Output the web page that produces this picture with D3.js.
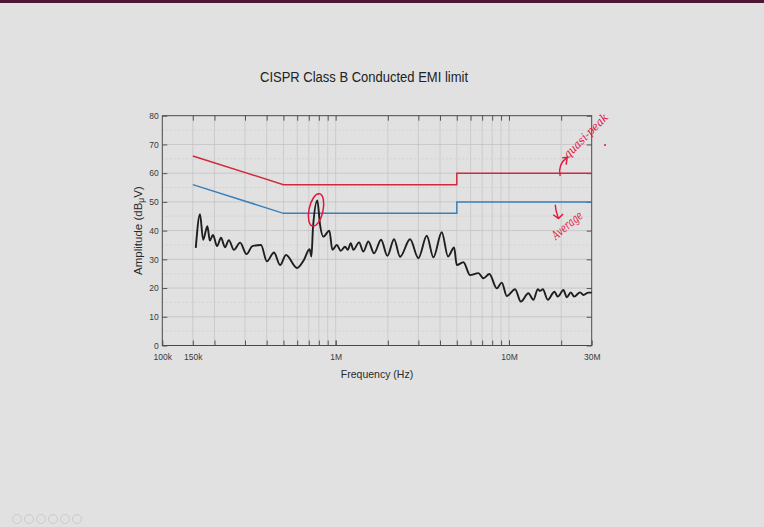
<html>
<head>
<meta charset="utf-8">
<script src="https://d3js.org/d3.v7.min.js"></script>
<style>
  body { margin: 0; background: #e1e1e1; }
</style>
</head>
<body>
<script>
// CISPR 22 class B limits (Hz / dBuV)
const limitFreq = [150e3, 500e3, 5e6, 5e6, 30e6];
const quasiPeak = [66, 56, 56, 60, 60];
const average = [56, 46, 46, 50, 50];

const emiFreq = [0.156, 0.165, 0.172, 0.182, 0.188, 0.196, 0.207, 0.218, 0.230, 0.242,
  0.259, 0.281, 0.306, 0.331, 0.371, 0.401, 0.441, 0.478, 0.517, 0.599,
  0.656, 0.707, 0.725, 0.740, 0.784, 0.813, 0.849, 0.920, 0.957, 1.015,
  1.070, 1.133, 1.175, 1.222, 1.265, 1.365, 1.445, 1.544, 1.666, 1.828,
  1.988, 2.173, 2.353, 2.688, 3.001, 3.355, 3.663, 4.095, 4.45, 4.822,
  5.0, 5.46, 5.96, 6.66, 7.12, 7.71, 8.50, 9.09, 9.71, 10.84,
  11.70, 12.94, 13.83, 14.66, 15.12, 15.67, 16.74, 18.28, 19.13, 20.60,
  21.56, 22.74, 23.75, 25.72, 26.87, 28.72, 30.0];
const emiLevel = [34, 45.7, 36.8, 41.5, 36.5, 38.5, 34.6, 37.5, 34.2, 36.7,
  33.3, 35.8, 31.8, 34.6, 35, 29.3, 32.4, 28, 31.5, 27,
  29.8, 33.5, 31, 41, 50.5, 42, 37.9, 40, 33.3, 35,
  33, 34.4, 33.3, 35.6, 33.3, 35.9, 32.7, 36.2, 32.1, 36.8,
  31.2, 37, 30.9, 37, 30.4, 38.2, 30.7, 39.4, 31, 34.1,
  28, 29, 24.5, 25.2, 23.4, 24.9, 19.9, 21.9, 17.2, 19.6,
  15.3, 18.2, 15.9, 19.6, 19, 19.6, 15.9, 18.7, 17, 19.3,
  16.8, 18.5, 17, 18.5, 17.6, 18.4, 18.4];

const xTickVals = [1e5, 1.5e5, 1e6, 1e7, 3e7];
const xTickLabels = ["100k", "150k", "1M", "10M", "30M"];
const yTickVals = [0, 10, 20, 30, 40, 50, 60, 70, 80];

const W = 764, H = 527;
const pLeft = 162.3, pRight = 591.7, pTop = 115.7, pBottom = 345.5;

const svg = d3.select("body").append("svg")
  .attr("width", W)
  .attr("height", H);

svg.append("rect").attr("width", W).attr("height", H).attr("fill", "#e1e1e1");
svg.append("rect").attr("width", W).attr("height", 3).attr("fill", "#4e1834");

let x = d3.scaleLog().domain([1e5, 3e7]).range([pLeft, pRight]);
let y = d3.scaleLinear().domain([0, 80]).range([pBottom, pTop]);

let minorX = x.ticks().filter(d => d > 1e5 && d < 3e7);

// grid
let grid = svg.append("g");
grid.selectAll(".gx")
  .data(minorX.concat([1.5e5]))
  .enter().append("line")
  .attr("x1", d => x(d)).attr("x2", d => x(d))
  .attr("y1", pTop).attr("y2", pBottom)
  .attr("stroke", "#c6c6c6")
  .attr("stroke-width", 0.8);
grid.selectAll(".gy")
  .data(d3.range(5, 80, 5))
  .enter().append("line")
  .attr("x1", pLeft).attr("x2", pRight)
  .attr("y1", d => y(d)).attr("y2", d => y(d))
  .attr("stroke", d => d % 10 == 0 ? "#c2c2c2" : "#cecece")
  .attr("stroke-width", 0.8)
  .attr("stroke-dasharray", d => d % 10 == 0 ? null : "2,2");

// axes
const tickStyle = g => {
  g.select(".domain").remove();
  g.selectAll("line").attr("stroke", "#555");
  g.selectAll("text")
    .attr("font-family", "Liberation Sans, Arial, sans-serif")
    .attr("font-size", "8.5px")
    .attr("fill", "#3a3a3a");
};

svg.append("g")
  .attr("transform", `translate(0,${pBottom})`)
  .call(d3.axisBottom(x).tickValues(xTickVals)
    .tickFormat((d, i) => xTickLabels[i]).tickSizeInner(-5).tickSizeOuter(0).tickPadding(8))
  .call(tickStyle);
svg.append("g")
  .attr("transform", `translate(0,${pBottom})`)
  .call(d3.axisBottom(x).tickValues(minorX).tickFormat("").tickSize(-5))
  .call(tickStyle);
svg.append("g")
  .attr("transform", `translate(0,${pTop})`)
  .call(d3.axisTop(x).tickValues(minorX.concat([1.5e5])).tickFormat("").tickSize(-5))
  .call(tickStyle);
svg.append("g")
  .attr("transform", `translate(${pLeft},0)`)
  .call(d3.axisLeft(y).tickValues(yTickVals).tickSizeInner(-5).tickSizeOuter(0).tickPadding(3.5))
  .call(tickStyle);
svg.append("g")
  .attr("transform", `translate(${pRight},0)`)
  .call(d3.axisRight(y).tickValues(yTickVals).tickFormat("").tickSize(-5))
  .call(tickStyle);

svg.append("rect")
  .attr("x", pLeft).attr("y", pTop)
  .attr("width", pRight - pLeft).attr("height", pBottom - pTop)
  .attr("fill", "none")
  .attr("stroke", "#4a4a4a")
  .attr("stroke-width", 1);

// limit lines
const limLine = vals => d3.line()
  .x((d, i) => x(limitFreq[i]))
  .y((d, i) => y(vals[i]))(vals);

svg.append("path").attr("d", limLine(quasiPeak))
  .attr("fill", "none").attr("stroke", "#d02a3c").attr("stroke-width", 1.5);
svg.append("path").attr("d", limLine(average))
  .attr("fill", "none").attr("stroke", "#3f7fb6").attr("stroke-width", 1.5);

// measured spectrum
let emi = emiFreq.map((f, i) => [f * 1e6, emiLevel[i]]);
svg.append("path")
  .attr("d", d3.line().x(d => x(d[0])).y(d => y(d[1])).curve(d3.curveMonotoneX)(emi))
  .attr("fill", "none")
  .attr("stroke", "#1e1e1e")
  .attr("stroke-width", 1.9)
  .attr("stroke-linejoin", "round");

// labels
svg.append("text")
  .attr("x", 364).attr("y", 82)
  .attr("text-anchor", "middle")
  .attr("font-family", "Liberation Sans, Arial, sans-serif")
  .attr("font-size", "15.5px")
  .attr("fill", "#222")
  .attr("textLength", 208)
  .attr("lengthAdjust", "spacingAndGlyphs")
  .text("CISPR Class B Conducted EMI limit");

svg.append("text")
  .attr("x", 377).attr("y", 378)
  .attr("text-anchor", "middle")
  .attr("font-family", "Liberation Sans, Arial, sans-serif")
  .attr("font-size", "10.5px")
  .attr("fill", "#2a2a2a")
  .text("Frequency (Hz)");

let yl = svg.append("text")
  .attr("transform", `translate(142,${(pTop + pBottom) / 2}) rotate(-90)`)
  .attr("text-anchor", "middle")
  .attr("font-family", "Liberation Sans, Arial, sans-serif")
  .attr("font-size", "11.5px")
  .attr("fill", "#2a2a2a");
yl.append("tspan").text("Amplitude (dB");
yl.append("tspan").attr("font-size", "8.5px").attr("dy", 2).text("\u03bc");
yl.append("tspan").attr("dy", -2).text("V)");

// hand drawn annotations
const pen = "#e0143c";
svg.append("ellipse")
  .attr("cx", x(0.771e6)).attr("cy", y(47.2))
  .attr("rx", 7).attr("ry", 16.5)
  .attr("transform", `rotate(12,${x(0.771e6)},${y(47.2)})`)
  .attr("fill", "none").attr("stroke", pen).attr("stroke-width", 1.5);

svg.append("path")
  .attr("d", `M${x(20e6) - 1},${y(59)} C${x(20e6) - 3},${y(62)} ${x(20e6)},${y(64)} ${x(20e6) + 6},${y(65.5)}`)
  .attr("fill", "none").attr("stroke", pen).attr("stroke-width", 1.4);
svg.append("path")
  .attr("d", `M${x(20e6) + 1},${y(65.3)} L${x(20e6) + 6},${y(65.5)} L${x(20e6) + 5},${y(63)}`)
  .attr("fill", "none").attr("stroke", pen).attr("stroke-width", 1.4);
svg.append("text")
  .attr("transform", `translate(568,159) rotate(-45)`)
  .attr("font-family", "DejaVu Serif, serif")
  .attr("font-style", "italic")
  .attr("font-size", "11.5px")
  .attr("fill", pen)
  .attr("textLength", 58)
  .attr("lengthAdjust", "spacingAndGlyphs")
  .text("quasi-peak");
svg.append("circle")
  .attr("cx", 605).attr("cy", 145).attr("r", 1).attr("fill", pen);

svg.append("path")
  .attr("d", `M${x(18.5e6)},${y(49)} C${x(18.5e6)},${y(47)} ${x(19e6)},${y(45.5)} ${x(19.3e6)},${y(44.2)}`)
  .attr("fill", "none").attr("stroke", pen).attr("stroke-width", 1.4);
svg.append("path")
  .attr("d", `M${x(18e6)},${y(45.5)} L${x(19.3e6)},${y(44.2)} L${x(20.5e6)},${y(45.8)}`)
  .attr("fill", "none").attr("stroke", pen).attr("stroke-width", 1.4);
svg.append("text")
  .attr("transform", `translate(556,240) rotate(-40)`)
  .attr("font-family", "DejaVu Serif, serif")
  .attr("font-style", "italic")
  .attr("font-size", "12.5px")
  .attr("fill", pen)
  .attr("textLength", 36)
  .attr("lengthAdjust", "spacingAndGlyphs")
  .text("Average");

// faint slide controls bottom left
svg.selectAll(".ctl")
  .data(d3.range(6))
  .enter().append("circle")
  .attr("cx", d => 17 + d * 12).attr("cy", 519)
  .attr("r", 4.5)
  .attr("fill", "none")
  .attr("stroke", "#cbcbcb")
  .attr("stroke-width", 1);
</script>
</body>
</html>
